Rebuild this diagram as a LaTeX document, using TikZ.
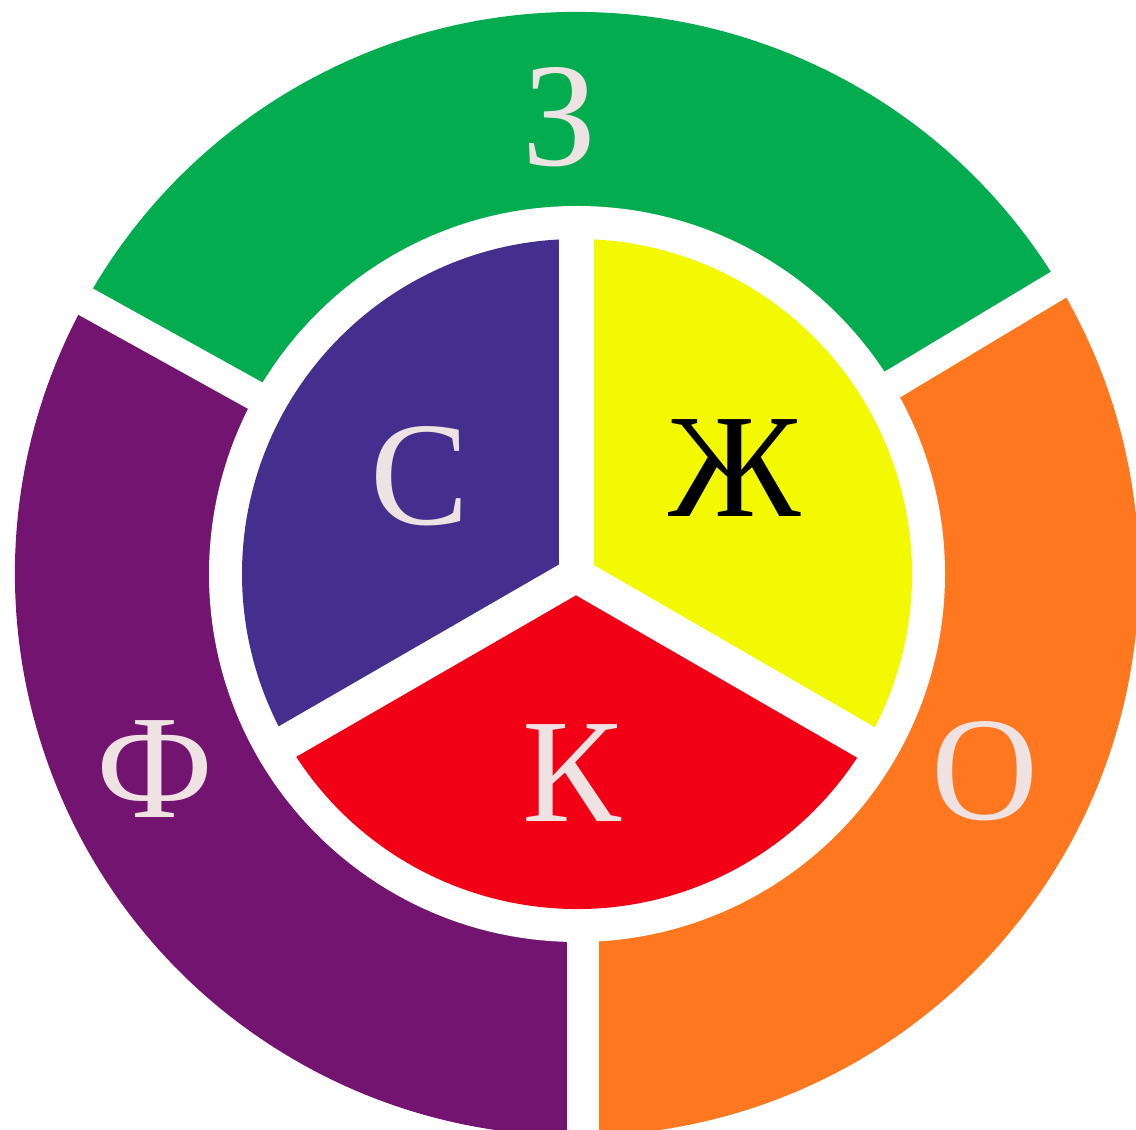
\documentclass[tikz,border=0pt]{standalone}
\usepackage{fontspec}
\setmainfont{Liberation Serif}
\definecolor{ringgreen}{HTML}{03AC4E}
\definecolor{ringpurple}{HTML}{721470}
\definecolor{ringorange}{HTML}{FF7820}
\definecolor{secblue}{HTML}{452F8E}
\definecolor{secyellow}{HTML}{F2F900}
\definecolor{secred}{HTML}{F20016}
\definecolor{lettercol}{HTML}{EEE2E2}
\tikzset{
  letter/.style={anchor=base, inner sep=0pt, font=\fontsize{148}{150}\selectfont, text=lettercol},
  gapline/.style={white, line width=#1, line cap=butt}
}
\begin{document}
\begin{tikzpicture}[x=1pt,y=1pt]
\useasboundingbox (0,0) rectangle (1136,1130);
\clip (0,0) rectangle (1136,1130);
\coordinate (C) at (577,556);
\coordinate (J) at (576,555);
% outer ring
\fill[ringgreen]  (C) -- ++(31:562)  arc[start angle=31,  end angle=151, radius=562] -- cycle;
\fill[ringpurple] (C) -- ++(151:562) arc[start angle=151, end angle=270, radius=562] -- cycle;
\fill[ringorange] (C) -- ++(270:562) arc[start angle=270, end angle=391, radius=562] -- cycle;
\fill[white] (C) circle[radius=368];
% gaps in ring
\draw[gapline=30] (C) ++(31:360) -- ++(31:260);
\draw[gapline=30] (C) ++(151:360) -- ++(151:260);
\draw[gapline=32] (583,196) -- (583,-20);
% inner sectors
\fill[secyellow] (C) -- ++(-30:335) arc[start angle=-30, end angle=90,  radius=335] -- cycle;
\fill[secblue]   (C) -- ++(90:335)  arc[start angle=90,  end angle=210, radius=335] -- cycle;
\fill[secred]    (C) -- ++(210:335) arc[start angle=210, end angle=330, radius=335] -- cycle;
% gaps between inner sectors
\draw[gapline=35] (J) -- ++(90:360);
\draw[gapline=35] (J) -- ++(210:360);
\draw[gapline=35] (J) -- ++(330:360);
% letters
\node[letter] (z) at (560,964) {З};
\node[letter] (s) at (420,605) {С};
\node[letter, text=black] (zh) at (735,613) {Ж};
\node[letter] (k) at (572,308) {К};
\node[letter] (f) at (155,312) {Ф};
\node[letter] (o) at (985,310) {О};
\end{tikzpicture}
\end{document}
